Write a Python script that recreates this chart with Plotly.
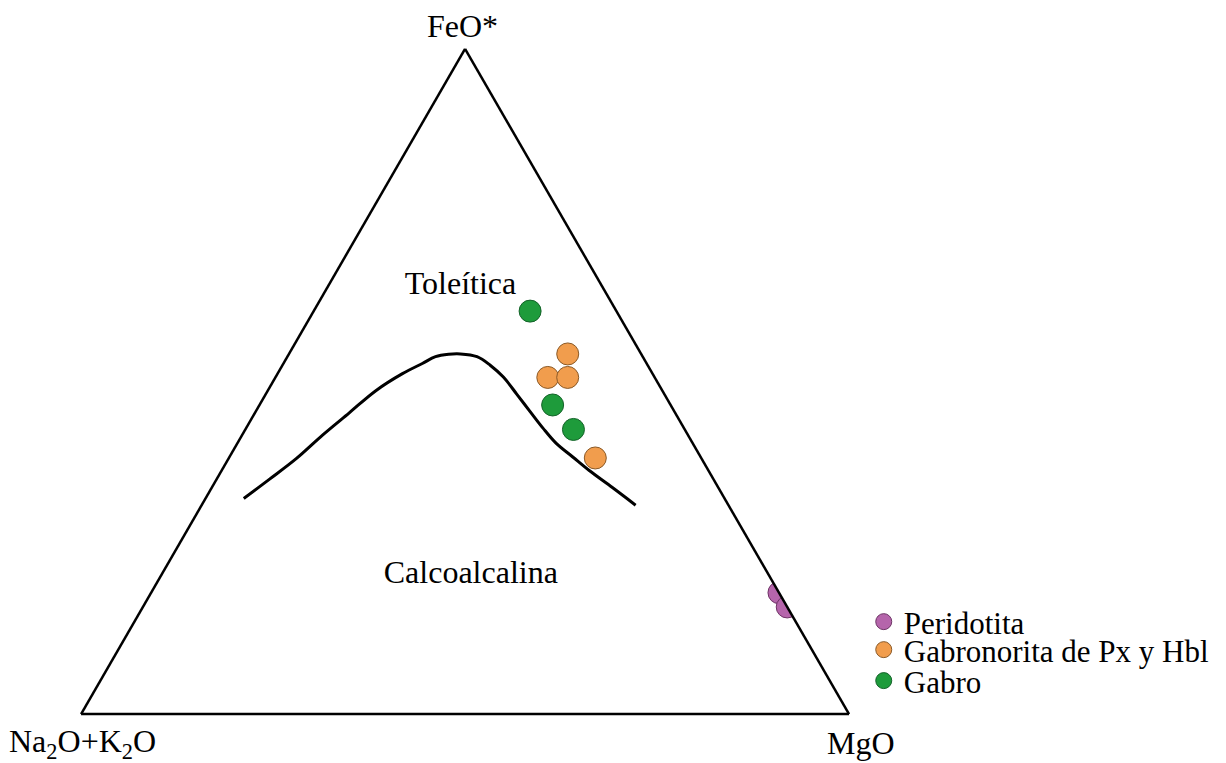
import plotly.graph_objects as go

# Ternary compositions (fractions): a = FeO*, b = Na2O+K2O, c = MgO
peridotita_a = [0.1825, 0.1610]
peridotita_b = [0.0000, 0.0000]
peridotita_c = [0.8175, 0.8390]

gabronorita_a = [0.5414, 0.5061, 0.5061, 0.3850]
gabronorita_b = [0.0956, 0.1392, 0.1133, 0.1379]
gabronorita_c = [0.3630, 0.3547, 0.3806, 0.4771]

gabro_a = [0.6058, 0.4647, 0.4279]
gabro_b = [0.1124, 0.1536, 0.1449]
gabro_c = [0.2818, 0.3817, 0.4272]

# Tholeiitic / calc-alkaline boundary
curve_a = [0.3241, 0.3532, 0.3839, 0.4198, 0.4529, 0.4862, 0.5118, 0.5271,
           0.5373, 0.5409, 0.5414, 0.5373, 0.5245, 0.5066, 0.4811, 0.4555,
           0.4299, 0.4069, 0.3865, 0.3661, 0.3405, 0.3140]
curve_b = [0.6261, 0.5779, 0.5279, 0.4753, 0.4243, 0.3731, 0.3256, 0.2921,
           0.2698, 0.2508, 0.2353, 0.2158, 0.2050, 0.1968, 0.1922, 0.1880,
           0.1836, 0.1778, 0.1665, 0.1552, 0.1379, 0.1209]
curve_c = [0.0498, 0.0689, 0.0882, 0.1049, 0.1228, 0.1407, 0.1626, 0.1808,
           0.1929, 0.2083, 0.2233, 0.2469, 0.2705, 0.2966, 0.3267, 0.3565,
           0.3865, 0.4153, 0.4470, 0.4787, 0.5216, 0.5651]

field_labels = ["Toleítica", "Calcoalcalina"]
field_a = [0.6442, 0.2086]
field_b = [0.1838, 0.3882]
field_c = [0.1720, 0.4032]

axis_titles = ["FeO*", "Na<sub>2</sub>O+K<sub>2</sub>O", "MgO"]

SERIF = "Liberation Serif"
W, H = 1226, 763
OFF = 8  # page body margin

fig = go.Figure()

fig.add_trace(go.Scatterternary(
    a=curve_a, b=curve_b, c=curve_c, mode="lines",
    line=dict(color="black", width=3, shape="spline", smoothing=1.0),
    showlegend=False, hoverinfo="skip"))

fig.add_trace(go.Scatterternary(
    a=field_a, b=field_b, c=field_c, mode="text", text=field_labels,
    textfont=dict(family=SERIF, size=32, color="black"),
    showlegend=False, hoverinfo="skip"))

fig.add_trace(go.Scatterternary(
    a=peridotita_a, b=peridotita_b, c=peridotita_c, mode="markers",
    name="Peridotita", legend="legend",
    marker=dict(size=22, color="#B565AB", line=dict(color="#6E3566", width=1))))

fig.add_trace(go.Scatterternary(
    a=gabronorita_a, b=gabronorita_b, c=gabronorita_c, mode="markers",
    name="Gabronorita de Px y Hbl", legend="legend2",
    marker=dict(size=22, color="#F19D4D", line=dict(color="#8A5A28", width=1))))

fig.add_trace(go.Scatterternary(
    a=gabro_a, b=gabro_b, c=gabro_c, mode="markers",
    name="Gabro", legend="legend3",
    marker=dict(size=22, color="#1E9B3B", line=dict(color="#15632A", width=1))))

axis_common = dict(showline=True, linecolor="black", linewidth=2.5,
                   showgrid=False, showticklabels=False, ticks="", min=0,
                   title=dict(text=""))

legend_common = dict(x=0.698, xanchor="left", yanchor="middle",
                     font=dict(family=SERIF, size=31, color="black"),
                     bgcolor="rgba(0,0,0,0)", itemsizing="trace")

title_font = dict(family=SERIF, size=32, color="black")
title_pos = [(463, 26), (82, 743), (861, 743)]
annotations = [
    dict(text=t, x=(px - OFF) / W, y=1 - (py - OFF) / H,
         xref="paper", yref="paper", xanchor="center", yanchor="middle",
         showarrow=False, font=title_font, borderpad=0)
    for t, (px, py) in zip(axis_titles, title_pos)
]

fig.update_layout(
    width=W, height=H,
    margin=dict(l=0, r=0, t=0, b=0),
    paper_bgcolor="white",
    font=dict(family=SERIF, color="black"),
    ternary=dict(
        sum=1,
        bgcolor="white",
        domain=dict(x=[0.0596, 0.6860], y=[0.0518, 0.9692]),
        aaxis=axis_common,
        baxis=axis_common,
        caxis=axis_common,
    ),
    legend=dict(y=0.1953, **legend_common),
    legend2=dict(y=0.1586, **legend_common),
    legend3=dict(y=0.1180, **legend_common),
    annotations=annotations,
)

fig.write_html("out.html")
